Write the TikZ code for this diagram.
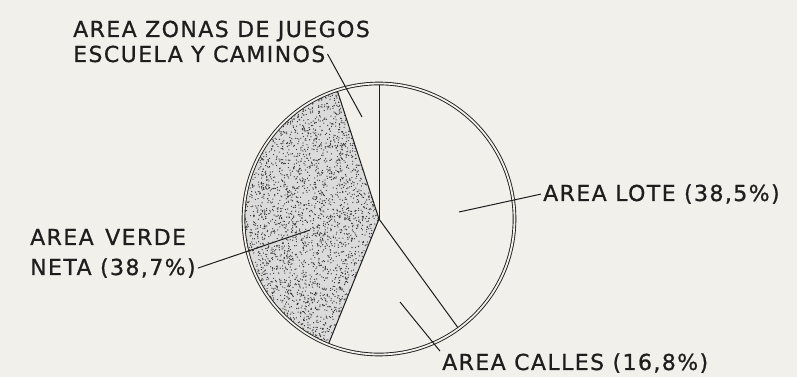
\documentclass[tikz,border=0pt]{standalone}
\usepackage{fontspec}
\setmainfont{DejaVu Sans}[LetterSpace=6.5, FakeBold=0.8]
\usetikzlibrary{positioning}
\definecolor{paper}{RGB}{241,240,235}
\definecolor{ink}{RGB}{30,30,30}
\tikzset{
lbl/.style={font=\fontsize{22}{25}\selectfont, text=ink, anchor=base west, inner sep=2pt}, % the lettering
leader/.style={draw=ink, line width=1pt}, % pointer and slice lines
rim/.style={draw=ink, line width=0.9pt, double=paper, double distance=1.8pt}, % double outline of the pie
}

\begin{document}
\begin{tikzpicture}[x=1pt, y=1pt]
\fill[paper] (0,0) rectangle (797,377);

\begin{scope}[shift={(379,158)}]
    % stippled slice
    \fill[black!14] (0,0) -- (108:134) arc[start angle=108, end angle=248, radius=134] -- cycle;
    \begin{scope}
        \clip (0,0) -- (108:134) arc[start angle=108, end angle=248, radius=134] -- cycle;
        \pgfmathsetseed{7}
        \foreach \i in {1,...,4200}
            \fill[ink!90] (-136+rnd*137, -136+rnd*272) circle (0.65pt);
    \end{scope}

    \foreach \a in {90,108,248,306}
        \draw[leader] (0,0) -- (\a:134);
    \draw[rim] (0,0) circle (135.5);

    \coordinate (zonasin) at (-17,102);
    \coordinate (lotein) at (80,7);
    \coordinate (verdein) at (-69,-11);
    \coordinate (callesin) at (21,-83);
\end{scope}

\node[lbl] (zonas1) at (71,340) {AREA ZONAS DE JUEGOS};
\node[lbl] (zonas2) at ([yshift=-25pt]zonas1.base west) {ESCUELA Y CAMINOS};
\node[lbl] (lote) at (541,176) {AREA LOTE (38,5\%)};
\node[lbl] (verde1) at (28,132) {AREA\hspace{3pt} VERDE};
\node[lbl] (verde2) at ([yshift=-30pt]verde1.base west) {NETA (38,7\%)};
\node[lbl] (calles) at (440,7) {AREA CALLES (16,8\%)};

\draw[leader] (zonas2.east) -- (zonasin);
\draw[leader] (lotein) -- (lote.west);
\draw[leader] (verdein) -- (verde2.east);
\draw[leader] (callesin) -- (calles.north west);
\end{tikzpicture}
\end{document}
